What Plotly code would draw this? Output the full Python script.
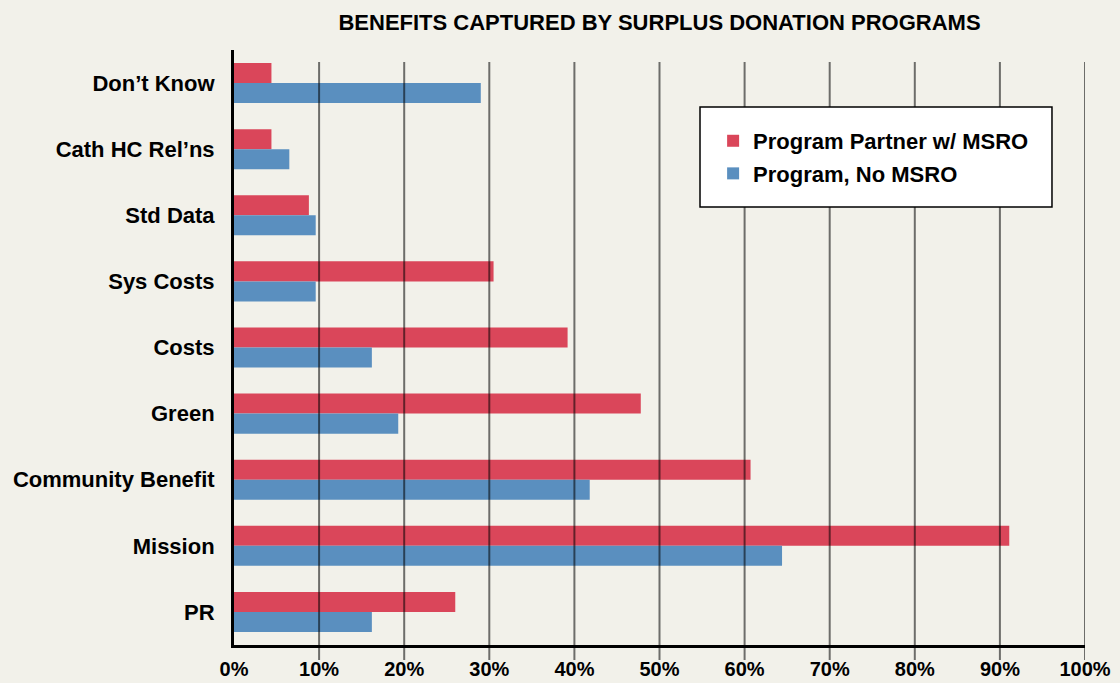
import plotly.graph_objects as go

categories = ["Don’t Know", "Cath HC Rel’ns", "Std Data", "Sys Costs", "Costs",
              "Green", "Community Benefit", "Mission", "PR"]
partner_msro = [4.4, 4.4, 8.8, 30.5, 39.2, 47.8, 60.7, 91.1, 26.0]
no_msro = [29.0, 6.5, 9.6, 9.6, 16.2, 19.3, 41.8, 64.4, 16.2]
series_names = ["Program Partner w/ MSRO", "Program, No MSRO"]
x_ticks = [0, 10, 20, 30, 40, 50, 60, 70, 80, 90, 100]
x_tick_labels = [f"{t}%" for t in x_ticks]

RED = "#DA465A"
BLUE = "#5A8FBF"
BG = "#F2F1EA"
SANS = "Liberation Sans, Arial, sans-serif"

fig = go.Figure()
fig.add_trace(go.Bar(y=categories, x=partner_msro, orientation="h", name=series_names[0],
                     legendgroup="a", marker=dict(color=RED, line=dict(width=0))))
fig.add_trace(go.Bar(y=categories, x=no_msro, orientation="h", name=series_names[1],
                     legendgroup="b", marker=dict(color=BLUE, line=dict(width=0))))

# vertical grid lines drawn above the bars, poking slightly below the axis
for t in x_ticks[1:]:
    fig.add_shape(type="line", xref="x", yref="paper", x0=t, x1=t, y0=-0.025, y1=0.98,
                  line=dict(color="rgba(0,0,0,0.55)", width=2), layer="above")

# legend box
fig.add_shape(type="rect", xref="paper", yref="paper", x0=0.5476, x1=0.9612,
              y0=0.7361, y1=0.9042, fillcolor="#FFFFFF",
              line=dict(color="#000", width=1.5), layer="above")

fig.update_layout(
    width=1120, height=683,
    paper_bgcolor=BG, plot_bgcolor=BG,
    margin=dict(l=234, r=35, t=50, b=38, autoexpand=False),
    barmode="group", bargap=0.394, bargroupgap=0,
    title=dict(text="BENEFITS CAPTURED BY SURPLUS DONATION PROGRAMS",
               font=dict(family=SANS, size=22, color="#000", weight="bold"),
               x=0.5, xref="paper", xanchor="center", y=0.968, yref="container", yanchor="middle"),
    legend=dict(x=0.563, y=0.8824, xanchor="left", yanchor="top",
                bgcolor="rgba(0,0,0,0)", borderwidth=0,
                font=dict(family=SANS, size=22, color="#000", weight="bold"),
                traceorder="grouped", tracegroupgap=1, itemwidth=30),
    showlegend=True,
    xaxis=dict(range=[0, 100], tickvals=x_ticks, ticktext=x_tick_labels, showgrid=False,
               showline=True, linecolor="#000", linewidth=3, zeroline=False,
               ticks="", ticklabelstandoff=4,
               tickfont=dict(family=SANS, size=20, color="#000", weight="bold"),
               automargin=False, fixedrange=True),
    yaxis=dict(autorange="reversed", showgrid=False, showline=True, linecolor="#000",
               linewidth=3, ticks="", ticklabelstandoff=12, automargin=False,
               tickfont=dict(family=SANS, size=22, color="#000", weight="bold")),
)

fig.write_html("out.html", config={"displayModeBar": False},
               post_script="document.body.style.margin='0';")
